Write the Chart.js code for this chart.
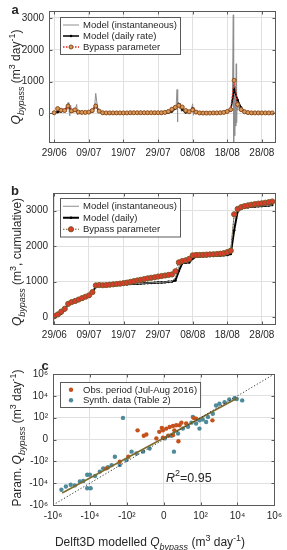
<!DOCTYPE html>
<html>
<head>
<meta charset="utf-8">
<script src="https://cdn.jsdelivr.net/npm/chart.js@4.4.1/dist/chart.umd.min.js"></script>
<style>
  html, body { margin: 0; padding: 0; background: #fff; }
  body { width: 287px; height: 550px; position: relative; overflow: hidden; }
  canvas { position: absolute; left: 0; }
</style>
</head>
<body>
<canvas id="chart-a" width="287" height="170" style="top:0px"></canvas>
<canvas id="chart-b" width="287" height="180" style="top:170px"></canvas>
<canvas id="chart-c" width="287" height="200" style="top:350px"></canvas>
<script>
'use strict';

// date axis (days after 29/06/2016)
const dateTickDays = [0, 10, 20, 30, 40, 50, 60];
const dateTickLabels = ['29/06', '09/07', '19/07', '29/07', '08/08', '18/08', '28/08'];
const days = [
  0, 1, 2, 3, 4, 5, 6, 7, 8, 9, 10, 11, 12, 13, 14, 15, 16, 17, 18, 19,
  20, 21, 22, 23, 24, 25, 26, 27, 28, 29, 30, 31, 32, 33, 34, 35, 36, 37, 38, 39,
  40, 41, 42, 43, 44, 45, 46, 47, 48, 49, 50, 51, 52, 53, 54, 55, 56, 57, 58, 59,
  60, 61, 62, 63
];

// panel a : daily rates [m3/day]
const modelDaily = [
  10, 40, 60, 80, 260, 60, 90, 30, 20, 20,
  30, 60, 260, 50, 10, 5, 5, 5, 5, 5,
  5, 5, 5, 5, 5, 5, 5, 5, 5, 5,
  5, 5, 10, 20, 60, 150, 290, 120, 30, 40,
  150, 30, 10, 5, 5, 5, 10, 10, 10, 20,
  40, 90, 760, 420, 180, 60, 20, 10, 10, 10,
  10, 10, 10, 10
];
const bypassDaily = [
  20, 150, 100, 90, 230, 80, 110, 40, 30, 30,
  40, 90, 230, 70, 20, 15, 15, 15, 15, 15,
  15, 15, 20, 20, 20, 20, 20, 20, 20, 20,
  20, 20, 30, 60, 130, 190, 250, 200, 90, 50,
  110, 40, 15, 10, 10, 10, 15, 15, 20, 30,
  60, 120, 1040, 280, 120, 50, 25, 15, 15, 15,
  15, 15, 15, 15
];
// instantaneous model output
const instDays = [
  0, 0.5, 1, 1.5, 2, 2.5, 3, 3.5, 3.75, 4, 4.25, 4.5, 4.75, 5, 5.5,
  6, 6.5, 6.75, 7, 7.5, 8, 8.5, 9, 9.5, 10, 10.5, 11, 11.5, 11.75, 12, 12.25, 12.5, 12.75, 13, 13.5, 14,
  15, 16, 17, 18, 19, 20, 21, 22, 23, 24, 25, 26, 27, 28, 29, 30, 31, 32, 33, 33.5,
  34, 34.5, 35, 35.25, 35.5, 35.6, 35.75, 36, 36.25, 36.5, 36.75, 37, 37.5, 38, 38.5, 39, 39.5,
  40, 40.25, 40.5, 40.75, 41, 41.5, 42, 43, 44, 45, 46, 47, 48, 49,
  50, 50.5, 51, 51.25, 51.5, 51.75, 51.85, 52, 52.15, 52.3, 52.45, 52.6, 52.7, 52.85, 53, 53.25, 53.5, 53.75, 54, 54.5, 55,
  56, 57, 58, 59, 60, 61, 62, 63
];
const instRate = [
  10, 60, 30, 90, 40, 120, 50, 100, 120, 340, 150, -80, 260, 60, 20,
  80, 280, -40, 40, 10, 30, 10, 20, 40, 20, 50, 60, 120, 300, 630, 420, 200, 80, 40, 10, 5,
  5, 8, 3, 6, 4, 7, 5, 3, 6, 4, 5, 7, 3, 5, 6, 4, 5, 10, 20, 40,
  80, 150, 200, 260, 750, -270, 380, 300, 150, 320, 60, 100, 30, 20, 40, 30, 50,
  300, -60, 180, 60, 30, 10, 5, 8, 4, 6, 10, 12, 8, 20,
  30, 60, 100, 200, 500, 3100, -900, 900, -700, 600, -400, 1560, -300, 500, 100, 400, 150, 200, 60, 40, 20,
  10, 12, 8, 10, 9, 11, 10, 10
];

// panel b : cumulative [m3]
const cumInst = [
  0, 50, 120, 250, 390, 425, 455, 490, 525, 570,
  620, 760, 880, 890, 892, 897, 902, 907, 912, 917,
  922, 927, 932, 937, 942, 947, 952, 957, 962, 967,
  972, 977, 983, 993, 1005, 1120, 1420, 1525, 1535, 1560,
  1690, 1702, 1707, 1712, 1717, 1722, 1727, 1732, 1737, 1745,
  1755, 1900, 2900, 3020, 3075, 3095, 3105, 3115, 3122, 3128,
  3135, 3142, 3152, 3162
];
const cumModel = [
  0, 40, 100, 200, 380, 420, 450, 480, 520, 560,
  600, 680, 870, 890, 890, 895, 900, 905, 910, 915,
  920, 925, 930, 935, 940, 945, 950, 955, 960, 965,
  970, 975, 980, 990, 1000, 1030, 1300, 1520, 1530, 1540,
  1650, 1700, 1705, 1710, 1715, 1720, 1725, 1730, 1735, 1740,
  1750, 1780, 2450, 2980, 3060, 3090, 3100, 3110, 3120, 3125,
  3130, 3140, 3150, 3160
];
const cumBypass = [
  20, 70, 150, 230, 370, 420, 450, 490, 530, 570,
  610, 700, 890, 900, 895, 900, 910, 920, 930, 940,
  955, 970, 990, 1010, 1030, 1050, 1070, 1090, 1105, 1120,
  1140, 1155, 1170, 1185, 1200, 1290, 1540, 1580, 1600, 1640,
  1740, 1750, 1750, 1755, 1760, 1765, 1770, 1775, 1785, 1800,
  1830, 1870, 2900, 3050, 3100, 3130, 3150, 3170, 3185, 3200,
  3210, 3225, 3240, 3260
];

// panel c : modelled vs parameterised [m3/day]
const obsModelled = [-25, -11, -7.7, -0.26, -0.74, -0.1, 0.38, 1.1, 2.2, 3.8, 6.2, 8.1, 2.8, -0.1, 0.74, 2.2, 5.3, 43, 56, 436, 15.6, -1.5, -82, -240, -1260];
const obsParam = [5.9, 1.2, 1.9, 10.5, 4, 5.9, 9, 12.8, 16.4, 19, 19, 34, 5.9, 0.45, 1.2, 1.5, -0.45, 90, 78, 56, 28, 0.26, -37, -109, -440];
const synthModelled = [-350000, -200000, -110000, -66000, -35000, -23000, -14000, -10000, -14000, -9100, -5200, -2900, -1900, -1050, -660, -440, -240, -104, -54, -29, -12, -4.8, -160, 2.6, 0.15, 1.6, 5, 10, 20, 31, 56, 86, 130, 250, 456, 690, 1050, 2000, 3600, 6900, 9100, 18000, 37, 86, 199];
const synthParam = [-40000, -20000, -14000, -16000, -6900, -6300, -1700, -1700, -29000, -29000, -2200, -870, -440, -350, -220, -37, -220, -75, -12, -18, -12, -5.6, 94, -12, 0.26, 1.2, 2.5, 9, 13.5, 34, 28, 56, 68, 114, 228, 1300, 1900, 2600, 4600, 6000, 5200, 3800, 114, 9, 39];
const fitModelled = [-316000, 10000];
const fitParam = [-79000, 6300];
const oneToOne = [-1000000, 1000000];
const symTickVals = [-3, -2, -1, 0, 1, 2, 3];
const symTickLabels = ['-10\u2076', '-10\u2074', '-10\u00b2', '0', '10\u00b2', '10\u2074', '10\u2076'];
const rSquared = '0.95';

const FONT = "'Liberation Sans', Arial, Helvetica, sans-serif";
const INK = '#262626';
Chart.defaults.font.family = FONT;
Chart.defaults.font.size = 10;
Chart.defaults.color = INK;

function zip(xs, ys) { return xs.map((x, i) => ({ x: x, y: ys[i] })); }
// symmetric log transform used by panel c (one unit = two decades)
function slog(v) { return Math.sign(v) * Math.log10(1 + Math.abs(v)) / 2; }
function zipLog(xs, ys) { return xs.map((x, i) => ({ x: slog(x), y: slog(ys[i]) })); }

// text with italic / sub / superscript parts
function drawRich(ctx, parts, cx, cy, rotate, size, align) {
  ctx.save();
  ctx.translate(cx, cy);
  if (rotate) ctx.rotate(-Math.PI / 2);
  const fontFor = p => (p.it ? 'italic ' : '') + (p.sub || p.sup ? Math.round(size * 0.72) : size) + 'px ' + FONT;
  let total = 0;
  parts.forEach(p => { ctx.font = fontFor(p); p.w = ctx.measureText(p.t).width; total += p.w; });
  let x = align === 'left' ? 0 : -total / 2;
  ctx.fillStyle = INK;
  ctx.textBaseline = 'alphabetic';
  ctx.textAlign = 'left';
  parts.forEach(p => {
    ctx.font = fontFor(p);
    const dy = p.sub ? size * 0.3 : p.sup ? -size * 0.42 : 0;
    ctx.fillText(p.t, x, size * 0.36 + dy);
    x += p.w;
  });
  ctx.restore();
}

const Q = [{ t: 'Q', it: true }, { t: 'bypass', it: true, sub: true }];
const rateUnit = [{ t: ' (m' }, { t: '3', sup: true }, { t: ' day' }, { t: '-1', sup: true }, { t: ')' }];

// box around the axes with inward ticks
const frame = {
  id: 'frame',
  afterDraw(chart) {
    const { ctx, chartArea: a, scales } = chart;
    const l = Math.round(a.left) + 0.5, r = Math.round(a.right) + 0.5;
    const t = Math.round(a.top) + 0.5, b = Math.round(a.bottom) + 0.5;
    ctx.save();
    ctx.strokeStyle = '#5a5a5a';
    ctx.lineWidth = 1;
    ctx.beginPath();
    scales.x.ticks.forEach(tk => {
      const px = Math.round(scales.x.getPixelForValue(tk.value)) + 0.5;
      ctx.moveTo(px, b); ctx.lineTo(px, b - 3);
      ctx.moveTo(px, t); ctx.lineTo(px, t + 3);
    });
    scales.y.ticks.forEach(tk => {
      const py = Math.round(scales.y.getPixelForValue(tk.value)) + 0.5;
      ctx.moveTo(l, py); ctx.lineTo(l + 3, py);
      ctx.moveTo(r, py); ctx.lineTo(r - 3, py);
    });
    ctx.stroke();
    ctx.strokeRect(l, t, r - l, b - t);
    ctx.restore();
  }
};

// legend box inside the axes
const boxLegend = {
  id: 'boxLegend',
  afterDatasetsDraw(chart, args, o) {
    if (!o || !o.items) return;
    const ctx = chart.ctx;
    ctx.save();
    ctx.font = o.size + 'px ' + FONT;
    const dsets = o.items.map(i => chart.data.datasets[i]);
    const tw = Math.max(...dsets.map(d => ctx.measureText(d.label).width));
    const w = o.textX + tw + 3, h = o.rowH * dsets.length + 4;
    ctx.fillStyle = '#fff';
    ctx.fillRect(o.x, o.y, w, h);
    ctx.strokeStyle = '#5a5a5a';
    ctx.lineWidth = 1;
    ctx.strokeRect(o.x + 0.5, o.y + 0.5, w, h);
    dsets.forEach((d, k) => {
      const cy = o.y + 2.5 + o.rowH * (k + 0.5);
      const x0 = o.x + 3, x1 = o.x + o.textX - 4;
      if (d.showLine !== false) {
        ctx.beginPath();
        ctx.setLineDash(d.borderDash || []);
        ctx.strokeStyle = d.borderColor;
        ctx.lineWidth = d.borderWidth;
        ctx.moveTo(x0, cy); ctx.lineTo(x1, cy);
        ctx.stroke();
        ctx.setLineDash([]);
      }
      if (d.pointRadius > 0) {
        ctx.beginPath();
        ctx.arc((x0 + x1) / 2, cy, d.pointRadius, 0, Math.PI * 2);
        ctx.fillStyle = d.pointBackgroundColor || d.backgroundColor;
        ctx.fill();
        if (d.pointBorderWidth) {
          ctx.strokeStyle = d.pointBorderColor;
          ctx.lineWidth = d.pointBorderWidth;
          ctx.stroke();
        }
      }
      ctx.fillStyle = INK;
      ctx.textBaseline = 'middle';
      ctx.fillText(d.label, o.x + o.textX, cy + 0.5);
    });
    ctx.restore();
  }
};

// axis titles, panel letter and extra text
const annot = {
  id: 'annot',
  afterDraw(chart, args, o) {
    const ctx = chart.ctx;
    ctx.save();
    ctx.font = 'bold 13px ' + FONT;
    ctx.fillStyle = INK;
    ctx.textAlign = 'center';
    ctx.textBaseline = 'middle';
    ctx.fillText(o.letter[0], o.letter[1], o.letter[2]);
    ctx.restore();
    o.texts.forEach(tx => drawRich(ctx, tx.parts, tx.x, tx.y, tx.rot, tx.size, tx.align));
  }
};

function axis(min, max, tickVals, labelFor, fit) {
  return {
    type: 'linear', min: min, max: max,
    afterBuildTicks: s => { s.ticks = tickVals.map(v => ({ value: v })); },
    afterFit: s => { if (s.isHorizontal()) s.height = fit; else s.width = fit; },
    ticks: { callback: labelFor, autoSkip: false, maxRotation: 0, padding: 5, color: INK, font: { size: 10 } },
    grid: { color: '#e0e0e0', drawTicks: false },
    border: { display: false }
  };
}
const dateLabel = v => dateTickLabels[dateTickDays.indexOf(v)];
const symLabel = v => symTickLabels[symTickVals.indexOf(v)];

function baseOptions(padTop, scales, plugins) {
  return {
    responsive: false, animation: false, events: [],
    layout: { padding: { top: padTop, right: 12, left: 0, bottom: 0 } },
    scales: scales,
    plugins: Object.assign({ legend: { display: false }, tooltip: { enabled: false } }, plugins)
  };
}

// ---- panel a : daily rate
new Chart(document.getElementById('chart-a'), {
  type: 'line',
  data: { datasets: [
    { label: 'Model (instantaneous)', data: zip(instDays, instRate), borderColor: '#8f8f8f', borderWidth: 1, pointRadius: 0, order: 3 },
    { label: 'Model (daily rate)', data: zip(days, modelDaily), borderColor: '#000', borderWidth: 1.5,
      pointRadius: 1.3, pointBackgroundColor: '#000', pointBorderWidth: 0, order: 2 },
    { label: 'Bypass parameter', data: zip(days, bypassDaily), borderColor: '#e3241c', borderWidth: 1.3, borderDash: [1.5, 1.5],
      pointRadius: 2, pointBackgroundColor: '#d99a5c', pointBorderColor: '#8c4a1a', pointBorderWidth: 1, order: 1 }
  ] },
  options: baseOptions(10, {
    x: axis(-1.5, 63.8, dateTickDays, dateLabel, 28),
    y: axis(-900, 3220, [0, 1000, 2000, 3000], v => String(v), 49)
  }, {
    boxLegend: { items: [0, 1, 2], x: 60, y: 17, textX: 23, rowH: 11, size: 9.5 },
    annot: { letter: ['a', 15, 10], texts: [{ parts: Q.concat(rateUnit), x: 16, y: 77, rot: true, size: 12 }] }
  }),
  plugins: [frame, boxLegend, annot]
});

// ---- panel b : cumulative
new Chart(document.getElementById('chart-b'), {
  type: 'line',
  data: { datasets: [
    { label: 'Model (instantaneous)', data: zip(days, cumInst), borderColor: '#8f8f8f', borderWidth: 1, pointRadius: 0, order: 2 },
    { label: 'Model (daily)', data: zip(days, cumModel), borderColor: '#000', borderWidth: 2,
      pointRadius: 1.3, pointBackgroundColor: '#000', pointBorderWidth: 0, order: 3 },
    { label: 'Bypass parameter', data: zip(days, cumBypass), borderColor: '#6e5a28', borderWidth: 1, borderDash: [1.5, 1.5],
      pointRadius: 2.6, pointBackgroundColor: '#e2392d', pointBorderColor: '#7a5a26', pointBorderWidth: 1, order: 1 }
  ] },
  options: baseOptions(23, {
    x: axis(-0.4, 63.8, dateTickDays, dateLabel, 26),
    y: axis(-200, 3500, [0, 1000, 2000, 3000], v => String(v), 53)
  }, {
    boxLegend: { items: [0, 1, 2], x: 60, y: 28, textX: 23, rowH: 11.5, size: 9.5 },
    annot: { letter: ['b', 15, 21], texts: [{ parts: Q.concat([{ t: ' (m' }, { t: '3', sup: true }, { t: ', cumulative)' }]), x: 17, y: 92, rot: true, size: 12 }] }
  }),
  plugins: [frame, boxLegend, annot]
});

// ---- panel c : scatter on symmetric log axes
new Chart(document.getElementById('chart-c'), {
  type: 'scatter',
  data: { datasets: [
    { label: 'Obs. period (Jul-Aug 2016)', data: zipLog(obsModelled, obsParam), showLine: false,
      pointRadius: 2.2, pointBackgroundColor: '#c5521d', pointBorderWidth: 0, order: 3 },
    { label: 'Synth. data (Table 2)', data: zipLog(synthModelled, synthParam), showLine: false,
      pointRadius: 2.2, pointBackgroundColor: '#4e8a99', pointBorderWidth: 0, order: 4 },
    { label: 'fit', data: zipLog(fitModelled, fitParam), showLine: true, borderColor: '#7d6a2b', borderWidth: 1.5, pointRadius: 0, order: 2 },
    { label: '1:1', data: zipLog(oneToOne, oneToOne), showLine: true, borderColor: '#333', borderWidth: 1, borderDash: [1.2, 2], pointRadius: 0, order: 1 }
  ] },
  options: baseOptions(24, {
    x: axis(-3, 3, symTickVals, symLabel, 45),
    y: axis(-3, 3, symTickVals, symLabel, 53)
  }, {
    boxLegend: { items: [0, 1], x: 60, y: 32, textX: 23, rowH: 10.5, size: 9.5 },
    annot: { letter: ['c', 45, 16], texts: [
      { parts: [{ t: 'Param. ' }].concat(Q, rateUnit), x: 17, y: 88, rot: true, size: 12 },
      { parts: [{ t: 'Delft3D modelled ' }].concat(Q, rateUnit), x: 150, y: 192, rot: false, size: 12 },
      { parts: [{ t: 'R', it: true }, { t: '2', sup: true }, { t: '=' + rSquared }], x: 166, y: 127, rot: false, size: 12.5, align: 'left' }
    ] }
  }),
  plugins: [frame, boxLegend, annot]
});
</script>
</body>
</html>
